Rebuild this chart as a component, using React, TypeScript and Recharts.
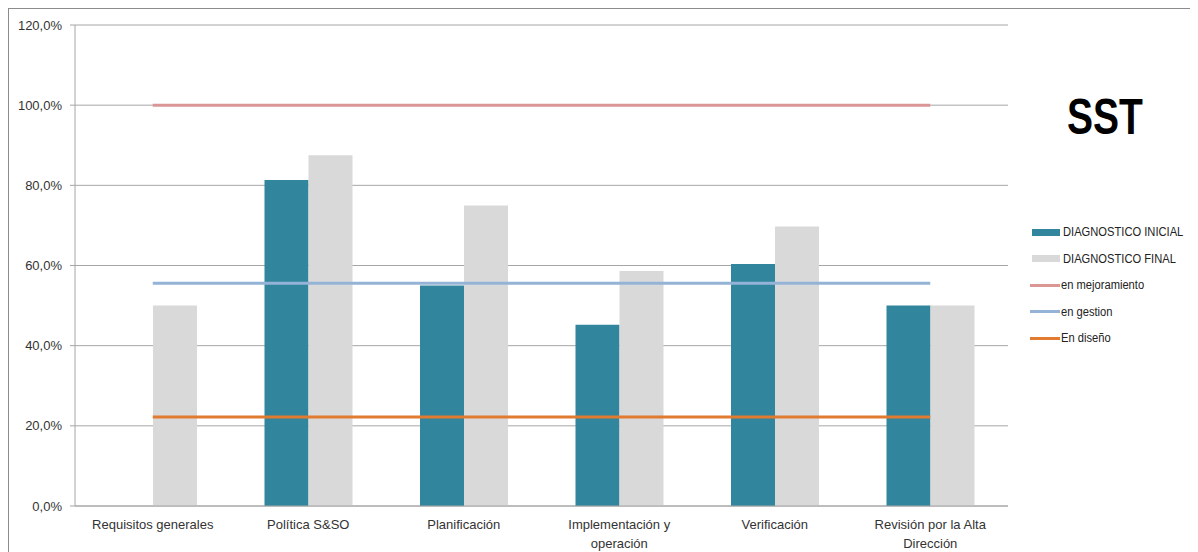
import React from "react";
import { ComposedChart, Bar, Line, XAxis, YAxis, CartesianGrid, Text } from "recharts";

const categories = [
  "Requisitos generales",
  "Política S&SO",
  "Planificación",
  "Implementación y operación",
  "Verificación",
  "Revisión por la Alta Dirección",
];
const diagnosticoInicial = [0, 81.3, 55.0, 45.2, 60.4, 50.0];
const diagnosticoFinal = [50.0, 87.5, 75.0, 58.6, 69.7, 50.0];
const enMejoramiento = [100, 100, 100, 100, 100, 100];
const enGestion = [55.6, 55.6, 55.6, 55.6, 55.6, 55.6];
const enDiseno = [22.2, 22.2, 22.2, 22.2, 22.2, 22.2];
const yTicks = [0, 20, 40, 60, 80, 100, 120];

const seriesNames = ["DIAGNOSTICO INICIAL", "DIAGNOSTICO FINAL", "en mejoramiento", "en gestion", "En diseño"];
const colors = ["#31859C", "#D9D9D9", "#D99694", "#95B3D7", "#E07B30"];
const seriesKinds = ["bar", "bar", "line", "line", "line"];

const data = categories.map((c, i) => ({
  name: c,
  inicial: diagnosticoInicial[i],
  final: diagnosticoFinal[i],
  mejoramiento: enMejoramiento[i],
  gestion: enGestion[i],
  diseno: enDiseno[i],
}));

const FONT = "'Liberation Sans', Arial, sans-serif";

const fmt = (v: number) => v.toFixed(1).replace(".", ",") + "%";

const XTick = (props: any) => {
  const { x, y, payload } = props;
  return (
    <Text
      x={x}
      y={y}
      width={140}
      textAnchor="middle"
      verticalAnchor="start"
      lineHeight={19}
      fontSize={13}
      fontFamily={FONT}
      fill="#333"
    >
      {payload.value}
    </Text>
  );
};

export default function App() {
  return (
    <div
      style={{
        position: "relative",
        width: 1189,
        height: 543,
        borderTop: "1px solid #8c8c8c",
        borderLeft: "1px solid #8c8c8c",
        fontFamily: FONT,
        background: "#fff",
      }}
    >
      <ComposedChart
        width={1189}
        height={543}
        data={data}
        margin={{ top: 16, right: 190, bottom: 0, left: 6 }}
        barGap={0}
      >
        <CartesianGrid vertical={false} stroke="#a6a6a6" strokeWidth={1} />
        <XAxis
          dataKey="name"
          interval={0}
          height={46}
          tickLine={false}
          tickSize={6}
          tickMargin={8}
          axisLine={{ stroke: "#a6a6a6" }}
          tick={<XTick />}
        />
        <YAxis
          domain={[0, 120]}
          ticks={yTicks}
          width={60}
          tickFormatter={fmt}
          tickSize={5}
          tickMargin={8}
          axisLine={{ stroke: "#a6a6a6" }}
          tickLine={{ stroke: "#a6a6a6" }}
          tick={{ fontSize: 13, fill: "#333", fontFamily: FONT }}
          interval={0}
        />
        <Bar dataKey="inicial" fill={colors[0]} barSize={44} isAnimationActive={false} />
        <Bar dataKey="final" fill={colors[1]} barSize={44} isAnimationActive={false} />
        <Line dataKey="mejoramiento" stroke={colors[2]} strokeWidth={3} dot={false} isAnimationActive={false} type="linear" />
        <Line dataKey="gestion" stroke={colors[3]} strokeWidth={3} dot={false} isAnimationActive={false} type="linear" />
        <Line dataKey="diseno" stroke={colors[4]} strokeWidth={3} dot={false} isAnimationActive={false} type="linear" />
      </ComposedChart>

      <div
        style={{
          position: "absolute",
          left: 1058,
          top: 80,
          fontSize: 50,
          fontWeight: "bold",
          lineHeight: "56px",
          fontFamily: FONT,
          color: "#000",
          transform: "scaleX(0.78)",
          transformOrigin: "left top",
          whiteSpace: "nowrap",
        }}
      >
        SST
      </div>

      <div style={{ position: "absolute", left: 1021, top: 210 }}>
        {seriesNames.map((n, i) => (
          <div
            key={n}
            style={{
              display: "flex",
              alignItems: "center",
              height: 26.5,
              fontSize: 12,
              color: "#222",
              whiteSpace: "nowrap",
            }}
          >
            {seriesKinds[i] === "bar" ? (
              <div style={{ width: 28, height: 7, background: colors[i], marginLeft: 2, marginRight: 3, flex: "none" }} />
            ) : (
              <div style={{ width: 30, height: 3, background: colors[i], marginRight: 1, flex: "none" }} />
            )}
            <span style={{ display: "inline-block", transform: "scaleX(0.93)", transformOrigin: "left center" }}>{n}</span>
          </div>
        ))}
      </div>
    </div>
  );
}
